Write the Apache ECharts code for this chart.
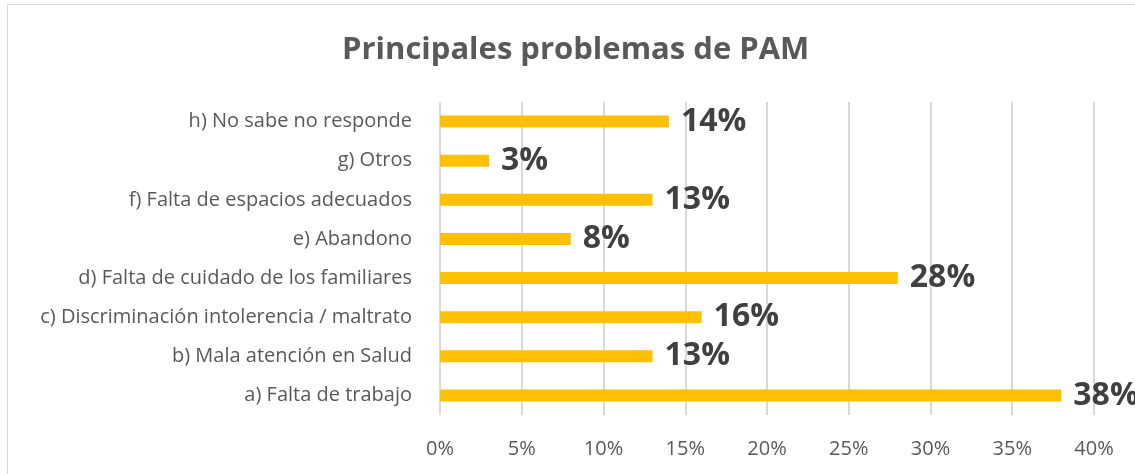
<!DOCTYPE html>
<html>
<head>
<meta charset="utf-8">
<script src="https://cdn.jsdelivr.net/npm/echarts@6/dist/echarts.min.js"></script>
<style>
  html, body {margin: 0; padding: 0; background: #fff;}
  #wrap {position: relative; width: 1135px; height: 474px; overflow: hidden;}
  #frame {position: absolute; left: 7px; top: 4px; width: 1200px; height: 520px; border: 1px solid #d9d9d9; box-sizing: border-box;}
  #chart {position: absolute; left: 0; top: 0; width: 1135px; height: 474px;}
</style>
</head>
<body>
<div id="wrap">
  <div id="frame"></div>
  <div id="chart"></div>
</div>
<script>
const categories = [
  'a) Falta de trabajo',
  'b) Mala atención en Salud',
  'c) Discriminación intolerencia / maltrato',
  'd) Falta de cuidado de los familiares',
  'e) Abandono',
  'f) Falta de espacios adecuados',
  'g) Otros',
  'h) No sabe no responde'
];
const values = [0.38, 0.13, 0.16, 0.28, 0.08, 0.13, 0.03, 0.14];
const titleText = 'Principales problemas de PAM';

const myChart = echarts.init(document.getElementById('chart'));
myChart.setOption({
  animation: false,
  textStyle: {fontFamily: 'Open Sans'},
  title: {
    text: titleText,
    left: 337,
    top: 30,
    textStyle: {
      fontFamily: 'Open Sans',
      fontSize: 31,
      fontWeight: 'bold',
      color: '#595959'
    }
  },
  grid: {
    left: 440,
    right: 41,
    top: 102,
    bottom: 59
  },
  xAxis: {
    type: 'value',
    min: 0,
    max: 0.4,
    interval: 0.05,
    axisLine: {show: false},
    axisTick: {show: false},
    splitLine: {
      show: true,
      lineStyle: {color: '#d9d9d9', width: 2}
    },
    axisLabel: {
      margin: 24,
      fontSize: 20,
      color: '#595959',
      formatter(val) {
        return Math.round(val * 100) + '%';
      }
    }
  },
  yAxis: {
    type: 'category',
    data: categories,
    axisLine: {show: false},
    axisTick: {show: false},
    axisLabel: {
      margin: 28,
      fontSize: 20,
      color: '#595959'
    }
  },
  series: [
    {
      type: 'bar',
      data: values,
      barWidth: 12,
      itemStyle: {color: '#ffc000'},
      label: {
        show: true,
        position: 'right',
        distance: 12,
        fontSize: 32,
        fontWeight: 'bold',
        color: '#404040',
        formatter(p) {
          return Math.round(p.value * 100) + '%';
        }
      }
    }
  ]
});
</script>
</body>
</html>
